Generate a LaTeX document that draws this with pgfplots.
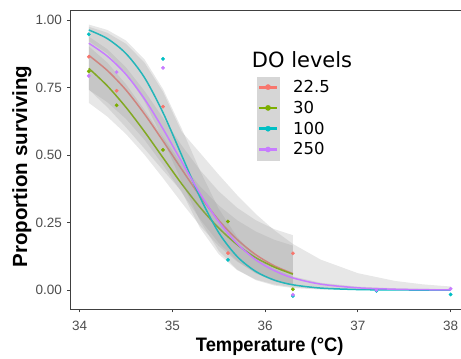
\documentclass[border=0pt]{standalone}
\usepackage{pgfplots}
\pgfplotsset{compat=1.18}
\usepackage{fontspec}
\setmainfont{Liberation Sans}
\newfontfamily\xlabfont{Liberation Sans}[FakeStretch=0.94]
\newfontfamily\legfont{DejaVu Sans}
\definecolor{cR}{HTML}{F8766D}
\definecolor{cG}{HTML}{7CAE00}
\definecolor{cC}{HTML}{00BFC4}
\definecolor{cP}{HTML}{C77CFF}
\definecolor{tickgray}{HTML}{4D4D4D}
\definecolor{keygray}{HTML}{D6D6D6}
\definecolor{ribgray}{HTML}{999999}
\begin{document}
\begin{tikzpicture}
\useasboundingbox (0pt,0pt) rectangle (461pt,359pt);
\begin{axis}[
  at={(70.7pt,50pt)}, anchor=south west,
  scale only axis, width=398pt, height=299pt,
  xmin=33.905, xmax=38.195, ymin=-0.070, ymax=1.037,
  xtick={34,35,36,37,38}, ytick={0,0.25,0.5,0.75,1},
  /pgf/number format/assume math mode=true,
  yticklabel style={/pgf/number format/fixed, /pgf/number format/fixed zerofill, /pgf/number format/precision=2},
  tick align=outside, xtick pos=left, ytick pos=left, major tick length=3.5pt,
  axis line style={draw=black!75, line width=0.8pt},
  tick style={draw=black!75, line width=0.8pt},
  ticklabel style={font=\fontsize{13.5}{14}\selectfont, text=tickgray, inner sep=0pt},
  xticklabel style={anchor=north, yshift=-8pt},
  yticklabel style={anchor=east, xshift=-5pt},
  xlabel={Temperature (°C)},
  xlabel style={at={(axis description cs:0.5,-0.1428)}, anchor=base, inner sep=0pt,
    font=\xlabfont\fontsize{19.5}{20}\selectfont\bfseries},
  ylabel={Proportion surviving},
  ylabel style={at={(axis description cs:-0.1224,0.4766)}, anchor=center, inner sep=0pt,
    font=\fontsize{20.5}{22}\selectfont\bfseries},
  legend style={at={(axis description cs:0.4673,0.7769)}, anchor=north west,
    draw=none, fill=none, inner sep=0pt, outer sep=0pt, row sep=0pt, column sep=13.4pt,
    font=\legfont\fontsize{16.5}{17}\selectfont, cells={anchor=west}, nodes={inner sep=0pt}},
  legend image code/.code={
    \fill[keygray] (-2.3pt,-10.2pt) rectangle (20.3pt,10.2pt);
    \draw[#1, line width=2.8pt] (0pt,0pt) -- (17.7pt,0pt);
    \fill[#1] (8.85pt,0pt) circle (2.6pt);
  },
]
% points
\addplot[only marks, mark=*, mark size=1.7pt, cR, forget plot] coordinates {(34.1,0.864)(34.4,0.738)(34.9,0.679)(35.6,0.137)(36.3,0.136)};
\addplot[only marks, mark=*, mark size=1.7pt, cG, forget plot] coordinates {(34.1,0.81)(34.4,0.684)(34.9,0.519)(35.6,0.254)(36.3,0.003)};
\addplot[only marks, mark=*, mark size=1.7pt, cC, forget plot] coordinates {(34.1,0.947)(34.9,0.856)(35.6,0.112)(36.3,-0.022)(37.2,-0.003)(38,-0.016)};
\addplot[only marks, mark=*, mark size=1.7pt, cP, forget plot] coordinates {(34.1,0.793)(34.4,0.807)(34.9,0.823)(36.3,-0.017)(37.2,0.0)(38,0.005)};
% red
\addplot[fill=ribgray, fill opacity=0.24, draw=none, forget plot] coordinates {
(34.1,0.9385)(34.3,0.892)(34.5,0.825)(34.7,0.7377)(34.9,0.6378)(35.1,0.5364)(35.3,0.4437)(35.5,0.366)(35.7,0.3045)(35.9,0.2585)(36.1,0.2255)(36.3,0.2033)
(36.3,0.0164)(36.1,0.0327)(35.9,0.0615)(35.7,0.108)(35.5,0.175)(35.3,0.2623)(35.1,0.3622)(34.9,0.4636)(34.7,0.5563)(34.5,0.634)(34.3,0.6955)(34.1,0.7415)};
\addplot[cR, line width=1.5pt, smooth, forget plot] coordinates {
(34.1,0.869)(34.3,0.813)(34.5,0.741)(34.7,0.652)(34.9,0.552)(35.1,0.448)(35.3,0.348)(35.5,0.259)(35.7,0.187)(35.9,0.131)(36.1,0.090)(36.3,0.061)};
% green
\addplot[fill=ribgray, fill opacity=0.24, draw=none, forget plot] coordinates {
(34.1,0.9025)(34.3,0.8424)(34.5,0.7624)(34.7,0.6673)(34.9,0.5661)(35.1,0.469)(35.3,0.3837)(35.5,0.3135)(35.7,0.2585)(35.9,0.2169)(36.1,0.1863)(36.3,0.1647)
(36.3,0.0196)(36.1,0.0361)(35.9,0.0633)(35.7,0.1049)(35.5,0.1633)(35.3,0.2379)(35.1,0.3243)(34.9,0.4148)(34.7,0.5015)(34.5,0.5783)(34.3,0.6424)(34.1,0.6934)};
\addplot[cG, line width=1.5pt, smooth, forget plot] coordinates {
(34.1,0.821)(34.3,0.756)(34.5,0.677)(34.7,0.587)(34.9,0.490)(35.1,0.394)(35.3,0.306)(35.5,0.230)(35.7,0.168)(35.9,0.120)(36.1,0.085)(36.3,0.059)};
% cyan
\addplot[fill=ribgray, fill opacity=0.24, draw=none, forget plot] coordinates {
(34.1,0.983)(34.3,0.9632)(34.5,0.9241)(34.7,0.8542)(34.9,0.7442)(35.1,0.5987)(35.3,0.4413)(35.5,0.3015)(35.7,0.196)(35.9,0.1243)(36.1,0.0787)(36.3,0.0504)(36.6,0.0269)(37.0,0.0127)(37.4,0.0068)(37.7,0.0046)(38.0,0.0034)
(38.0,0.0)(37.7,0.0)(37.4,0.0)(37.0,0.0003)(36.6,0.002)(36.3,0.0075)(36.1,0.017)(35.9,0.0368)(35.7,0.0759)(35.5,0.1458)(35.3,0.2558)(35.1,0.4013)(34.9,0.5587)(34.7,0.6985)(34.5,0.804)(34.3,0.8757)(34.1,0.9213)};
\addplot[cC, line width=1.5pt, smooth, forget plot] coordinates {
(34.1,0.963)(34.3,0.931)(34.5,0.876)(34.7,0.787)(34.9,0.657)(35.1,0.5)(35.3,0.343)(35.5,0.213)(35.7,0.124)(35.9,0.069)(36.1,0.037)(36.3,0.0196)(36.6,0.0075)(37.0,0.002)(37.4,0.0006)(37.7,0.0002)(38.0,0.0001)};
% purple
\addplot[fill=ribgray, fill opacity=0.24, draw=none, forget plot] coordinates {
(34.1,0.975)(34.3,0.9526)(34.5,0.912)(34.7,0.8424)(34.9,0.7338)(35.1,0.5871)(35.3,0.5075)(35.5,0.4275)(35.7,0.3511)(35.9,0.2817)(36.1,0.2213)(36.3,0.1708)(36.6,0.1127)(37.0,0.0626)(37.4,0.0339)(37.7,0.0212)(38.0,0.0132)
(38.0,0.0001)(37.7,0.0002)(37.4,0.0003)(37.0,0.0011)(36.6,0.004)(36.3,0.0108)(36.1,0.0207)(35.9,0.0393)(35.7,0.0735)(35.5,0.1333)(35.3,0.2297)(35.1,0.3663)(34.9,0.4437)(34.7,0.524)(34.5,0.603)(34.3,0.677)(34.1,0.743)};
\addplot[cP, line width=1.5pt, smooth, forget plot] coordinates {
(34.1,0.914)(34.3,0.866)(34.5,0.799)(34.7,0.708)(34.9,0.597)(35.1,0.476)(35.3,0.357)(35.5,0.253)(35.7,0.172)(35.9,0.112)(36.1,0.072)(36.3,0.045)(36.6,0.022)(37.0,0.0084)(37.4,0.0032)(37.7,0.0015)(38.0,0.0007)};
% legend
\addlegendimage{cR}\addlegendentry{22.5}
\addlegendimage{cG}\addlegendentry{30}
\addlegendimage{cC}\addlegendentry{100}
\addlegendimage{cP}\addlegendentry{250}
\node[anchor=west, inner sep=0pt, font=\legfont\fontsize{21}{22}\selectfont] at (axis description cs:0.4548,0.8351) {DO levels};
\end{axis}
\end{tikzpicture}
\end{document}
